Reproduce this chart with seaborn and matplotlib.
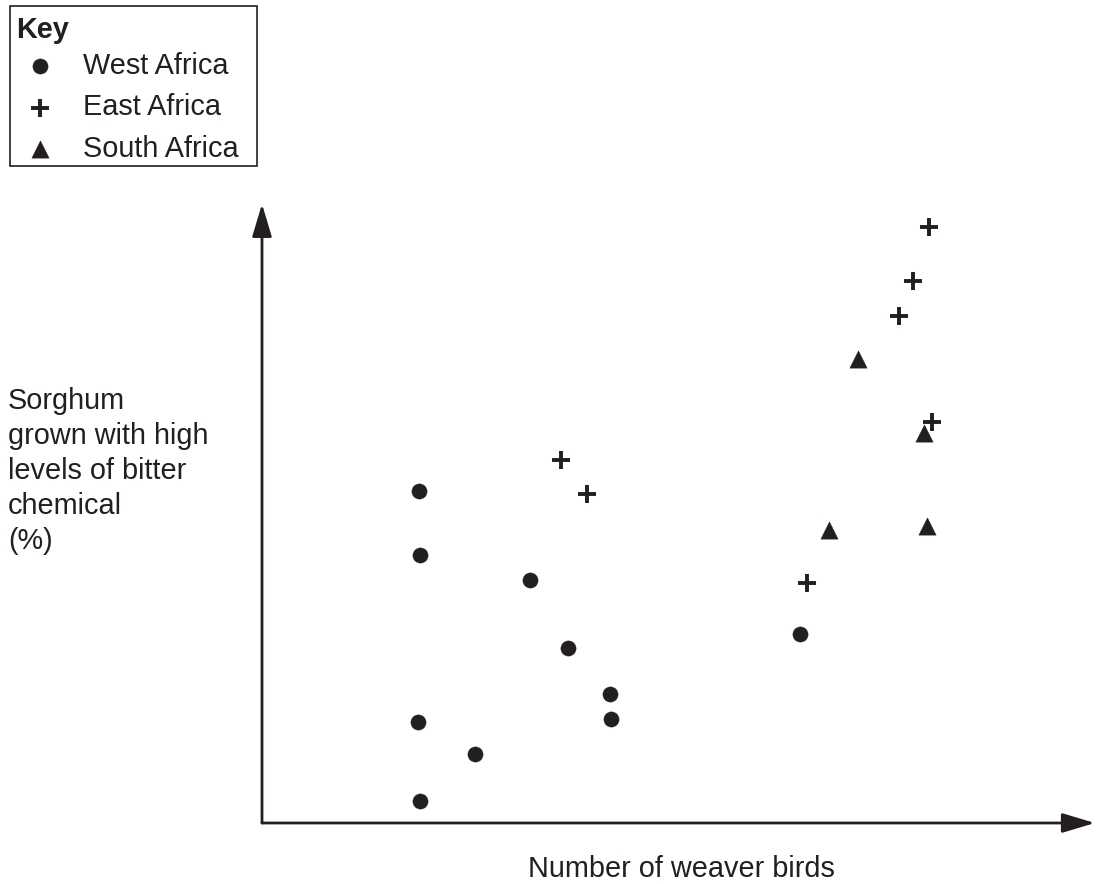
import matplotlib
matplotlib.use("Agg")
import matplotlib.pyplot as plt
from matplotlib.patches import Rectangle
import seaborn as sns
import pandas as pd

# ---- data (arbitrary units; no scale shown) ----
west_x = [19.1, 19.2, 32.6, 37.2, 42.3, 42.4, 19.0, 25.9, 19.2, 65.4]
west_y = [53.3, 43.0, 39.0, 28.1, 20.7, 16.7, 16.2, 11.1, 3.5, 30.3]
east_x = [36.3, 39.5, 81.0, 79.1, 77.4, 81.4, 66.2]
east_y = [58.3, 52.8, 95.7, 87.0, 81.4, 64.4, 38.5]
south_x = [72.4, 80.4, 68.9, 80.8]
south_y = [74.5, 62.6, 47.0, 47.7]
regions = ["West Africa", "East Africa", "South Africa"]
x_label = "Number of weaver birds"
y_label_lines = ["Sorghum", "grown with high", "levels of bitter", "chemical", "(%)"]
key_title = "Key"

sns.set_theme(style="white")
plt.rcParams["font.family"] = ["Liberation Sans", "DejaVu Sans"]

INK = "#231f20"
W, H = 1097, 884
FS = 20.8

fig = plt.figure(figsize=(W / 100, H / 100), dpi=100)
ax = fig.add_axes([262 / W, 61 / H, 823 / W, 623 / H])

df = pd.concat([
    pd.DataFrame({"x": west_x, "y": west_y, "region": regions[0]}),
    pd.DataFrame({"x": east_x, "y": east_y, "region": regions[1]}),
    pd.DataFrame({"x": south_x, "y": south_y, "region": regions[2]}),
], ignore_index=True)

styles = {
    regions[0]: dict(marker="o", s=120, edgecolor=INK, linewidth=0.3),
    regions[1]: dict(marker="+", s=185, linewidth=2.8),
    regions[2]: dict(marker="^", s=155, edgecolor=INK, linewidth=0.3),
}
for r in regions:
    sub = df[df["region"] == r]
    sns.scatterplot(data=sub, x="x", y="y", ax=ax, color=INK, label=r,
                    legend=False, zorder=3, **styles[r])

ax.set_xlim(0, 100)
ax.set_ylim(0, 100)
ax.set_xticks([])
ax.set_yticks([])
ax.set_xlabel("")
ax.set_ylabel("")
for sp in ax.spines.values():
    sp.set_visible(False)
ax.patch.set_alpha(0)

arrow_kw = dict(arrowstyle="-|>,head_length=20,head_width=6", mutation_scale=1,
                color=INK, lw=2.0, shrinkA=0, shrinkB=0)
ax.annotate("", xy=(1.012, 0), xytext=(0, 0), xycoords="axes fraction",
            textcoords="axes fraction", arrowprops=arrow_kw, annotation_clip=False)
ax.annotate("", xy=(0, 0.9936), xytext=(0, 0), xycoords="axes fraction",
            textcoords="axes fraction", arrowprops=arrow_kw, annotation_clip=False)

# axis labels
fig.text(681 / W, 1 - 877 / H, x_label, ha="center", va="baseline",
         fontsize=FS, color=INK)
for i, line in enumerate(y_label_lines):
    fig.text(8 / W, 1 - (409 + 35 * i) / H, line, ha="left", va="baseline",
             fontsize=FS, color=INK)

# key
fig.text(16 / W, 1 - 38 / H, key_title, ha="left", va="baseline",
         fontsize=FS, fontweight="bold", color=INK)
handles, labels = ax.get_legend_handles_labels()
leg = fig.legend(handles, labels, loc="upper left",
                 bbox_to_anchor=(10 / W, 1 - 46 / H), borderaxespad=0,
                 frameon=False,
                 fontsize=FS,
                 borderpad=0.2, handlelength=1.67, handletextpad=0.65,
                 labelspacing=0.47)
for t in leg.get_texts():
    t.set_color(INK)
fig.patches.append(Rectangle((10 / W, 1 - 166 / H), 247 / W, 160 / H,
                             transform=fig.transFigure, fill=False,
                             edgecolor=INK, lw=1.2))

fig.savefig("out.png", dpi=100)
